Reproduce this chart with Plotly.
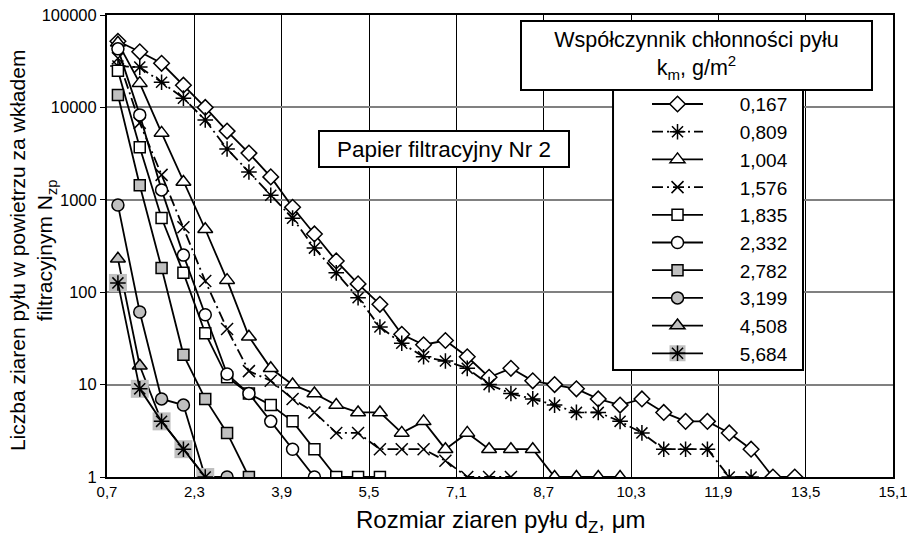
import plotly.graph_objects as go

# ---- data ----
x_values = [0.9, 1.3, 1.7, 2.1, 2.5, 2.9, 3.3, 3.7, 4.1, 4.5, 4.9, 5.3, 5.7, 6.1, 6.5, 6.9,
            7.3, 7.7, 8.1, 8.5, 8.9, 9.3, 9.7, 10.1, 10.5, 10.9, 11.3, 11.7, 12.1, 12.5, 12.9, 13.3]

series_names = ["0,167", "0,809", "1,004", "1,576", "1,835", "2,332", "2,782", "3,199", "4,508", "5,684"]

s_0167 = [52000, 40000, 30000, 17400, 10000, 5540, 3200, 1770, 830, 427, 218, 123, 74, 35, 27, 30,
          20, 12, 15, 11, 10, 9, 7, 6, 7, 5, 4, 4, 3, 2, 1, 1]
s_0809 = [28000, 27300, 18700, 12600, 7300, 3550, 2000, 1120, 633, 300, 162, 87, 42, 28, 20, 18,
          15, 10, 8, 7, 6, 5, 5, 4, 3, 2, 2, 2, 1, 1]
s_1004 = [50000, 18300, 5300, 1560, 480, 135, 33, 15, 10, 8, 6, 5, 5, 3, 4, 2, 3, 2, 2, 2, 1, 1, 1, 1]
s_1576 = [34000, 6800, 1860, 505, 132, 40, 14, 11, 7, 5, 3, 3, 2, 2, 2, 1.5, 1, 1, 1]
s_1835 = [25000, 3700, 635, 162, 36, 12, 8, 6, 4, 2, 1, 1, 1]
s_2332 = [43000, 8300, 1280, 252, 57, 13, 8, 4, 2, 1]
s_2782 = [13600, 1440, 183, 21, 7, 3, 1]
s_3199 = [880, 61, 7, 6, 1, 1]
s_4508 = [230, 16, 4, 2, 1]
s_5684 = [126, 9, 4, 2, 1]

x_tick_vals = [0.7, 2.3, 3.9, 5.5, 7.1, 8.7, 10.3, 11.9, 13.5, 15.1]
x_tick_text = ["0,7", "2,3", "3,9", "5,5", "7,1", "8,7", "10,3", "11,9", "13,5", "15,1"]
y_tick_vals = [1, 10, 100, 1000, 10000, 100000]
y_tick_text = ["1", "10", "100", "1000", "10000", "100000"]

# ---- styles ----
GRAY = "#C0C0C0"
FONT = "Liberation Sans, Arial, sans-serif"
DASH = "11px,4px,2px,4px"
LW = 1.8
styles = [
    dict(symbol="diamond", size=12, fill="white", dash="solid"),
    dict(symbol="asterisk-open", size=13, fill="black", dash=DASH),
    dict(symbol="triangle-up", size=13, fill="white", dash="solid"),
    dict(symbol="x-thin-open", size=12, fill="black", dash=DASH),
    dict(symbol="square", size=11, fill="white", dash="solid"),
    dict(symbol="circle", size=12, fill="white", dash="solid"),
    dict(symbol="square", size=11, fill=GRAY, dash="solid"),
    dict(symbol="circle", size=12, fill=GRAY, dash="solid"),
    dict(symbol="triangle-up", size=13, fill=GRAY, dash="solid"),
    dict(symbol="asterisk-open", size=13, fill="black", dash="solid"),
]
all_series = [s_0167, s_0809, s_1004, s_1576, s_1835, s_2332, s_2782, s_3199, s_4508, s_5684]

PAD = "\u00a0" * 6
LEG_FONT = 19
fig = go.Figure()

for i, (name, ys, st) in enumerate(zip(series_names, all_series, styles)):
    xs = x_values[:len(ys)]
    if i == 9:
        # grey square background behind the asterisk markers (its legend key sits under the last row)
        fig.add_trace(go.Scatter(x=xs, y=ys, mode="markers", name=" ", legend="legend",
                                 hoverinfo="skip",
                                 marker=dict(symbol="square", size=18, color=GRAY, line=dict(width=0))))
    fig.add_trace(go.Scatter(
        x=xs, y=ys, name=PAD + name, mode="lines+markers",
        legend="legend2", legendgroup=name,
        line=dict(color="black", width=LW, dash=st["dash"]),
        marker=dict(symbol=st["symbol"], size=st["size"], color=st["fill"],
                    line=dict(color="black", width=1.5)),
    ))

# legend frame (white box) as a paper shape
LEG_X0, LEG_X1, LEG_Y0, LEG_Y1 = 0.6438, 0.8855, 0.2316, 0.842
LEG2_X, LEG2_Y = 0.6845, 0.8525
ROW = 27.7 / 462.0

fig.add_shape(type="rect", xref="paper", yref="paper", x0=LEG_X0, x1=LEG_X1, y0=LEG_Y0, y1=LEG_Y1,
              fillcolor="white", line=dict(color="black", width=2), layer="above")

fig.update_layout(
    width=907, height=544,
    margin=dict(l=107, r=14, t=15, b=67, autoexpand=False),
    paper_bgcolor="white", plot_bgcolor="white",
    font=dict(family=FONT, color="black", size=15),
    legend=dict(x=LEG2_X, y=LEG2_Y - 9 * ROW, xanchor="left", yanchor="top",
                bgcolor="rgba(0,0,0,0)", bordercolor="rgba(0,0,0,0)", borderwidth=2,
                font=dict(size=LEG_FONT), itemwidth=51),
    legend2=dict(x=LEG2_X, y=LEG2_Y, xanchor="left", yanchor="top",
                 bgcolor="rgba(0,0,0,0)", bordercolor="rgba(0,0,0,0)", borderwidth=2,
                 font=dict(size=LEG_FONT), tracegroupgap=0, traceorder="grouped",
                 itemwidth=51),
    xaxis=dict(range=[0.69999, 15.10001], tickvals=x_tick_vals, ticktext=x_tick_text,
               showgrid=True, gridcolor="black", gridwidth=1,
               showline=True, linecolor="black", linewidth=2, mirror=True,
               ticks="", zeroline=False, automargin=False, ticklabeloverflow="allow",
               tickfont=dict(family="Liberation Sans Narrow, Arial Narrow, Liberation Sans", size=15)),
    yaxis=dict(type="log", range=[0, 5], tickvals=y_tick_vals, ticktext=y_tick_text,
               showgrid=True, gridcolor="#808080", gridwidth=2,
               showline=True, linecolor="black", linewidth=2, mirror=True,
               ticks="outside", ticklen=5, tickcolor="black", zeroline=False, automargin=False,
               ticklabeloverflow="allow", tickfont=dict(size=16.5)),
    showlegend=True,
)

# axis titles
fig.add_annotation(xref="paper", yref="paper", x=0.501, y=-0.0974, xanchor="center", yanchor="middle",
                   text="Rozmiar ziaren pyłu d<sub>Z</sub>, μm", showarrow=False, font=dict(size=24))
fig.add_annotation(xref="paper", yref="paper", x=-0.0942, y=0.491, xanchor="center", yanchor="middle",
                   textangle=-90,
                   text="Liczba ziaren pyłu w powietrzu za wkładem<br>filtracyjnym N<sub>zp</sub>",
                   showarrow=False, font=dict(size=21))

fig.add_annotation(xref="paper", yref="paper", x=0.4288, y=0.71, xanchor="center", yanchor="middle",
                   text="Papier filtracyjny Nr 2", showarrow=False, font=dict(size=22.5),
                   bgcolor="white", bordercolor="black", borderwidth=2, borderpad=4, width=240, height=26)
fig.add_annotation(xref="paper", yref="paper", x=0.7498, y=0.913, xanchor="center", yanchor="middle",
                   text="Współczynnik chłonności pyłu<br>k<sub>m</sub>, g/m<sup>2</sup>", showarrow=False,
                   font=dict(size=21.5), bgcolor="white", bordercolor="black", borderwidth=2,
                   borderpad=4, width=341, height=59)

fig.write_html("out.html", config={"displayModeBar": False},
               post_script="document.body.style.margin='0px';document.body.style.padding='0px';"
                           "document.documentElement.style.overflow='hidden';")
